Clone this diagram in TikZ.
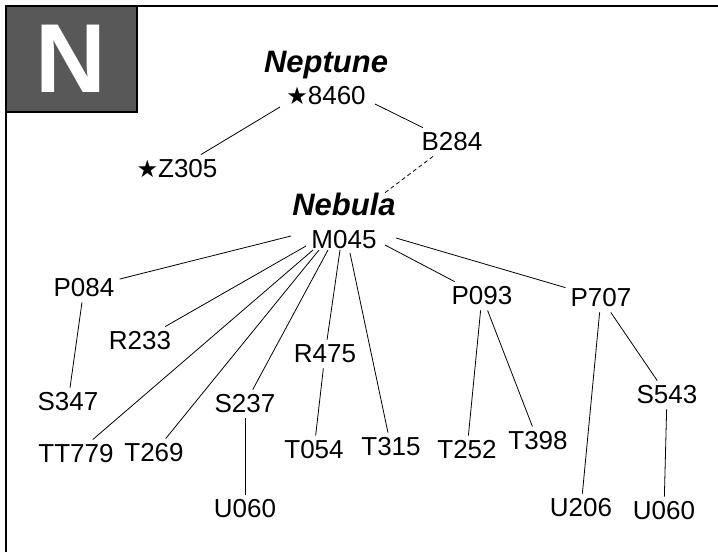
\documentclass[tikz,border=0pt]{standalone}
\usepackage{fontspec}
\usetikzlibrary{calc}
\setmainfont{Liberation Sans}
\newfontfamily\djv{DejaVu Sans}
\begin{document}
\begin{tikzpicture}[x=1pt,y=-1pt,
  lbl/.style={font=\fontsize{26}{26}\selectfont, inner sep=5pt},
  ttl/.style={font=\fontsize{31}{31}\selectfont\bfseries\itshape, inner sep=2pt, anchor=base},
  edge/.style={line width=0.8pt},
  dedge/.style={line width=0.8pt, dash pattern=on 4pt off 3pt}]
\useasboundingbox (0,0) rectangle (718,552);
% frame
\draw[line width=2.5pt] (6,552) -- (6,6) -- (718,6);
\draw[line width=2.5pt, fill={rgb,255:red,88;green,88;blue,88}] (6,6) rectangle (137,112);
\node[font=\fontsize{98}{98}\selectfont\bfseries, text=white, inner sep=0pt] (nlet) at (71,59) {N};
% titles
\node[ttl] (neptune) at (326,72) {Neptune};
\node[ttl] (nebula) at (344,215) {Nebula};
% nodes
\newcommand{\str}{{\djv\fontsize{24}{24}\selectfont\raisebox{0.5pt}{★}}}
\node[lbl] (n8460) at (326,96) {\str8460};
\node[lbl] (z305) at (177,169) {\str Z305};
\node[lbl] (b284) at (452,142) {B284};
\node[lbl] (m045) at (344,240) {M045};
\node[lbl] (p084) at (84,288) {P084};
\node[lbl] (r233) at (140,341) {R233};
\node[lbl] (s347) at (68,402) {S347};
\node[lbl] (tt779) at (76,454) {TT779};
\node[lbl] (t269) at (154,453) {T269};
\node[lbl] (s237) at (245,404) {S237};
\node[lbl] (u060a) at (245,509) {U060};
\node[lbl] (r475) at (325,354) {R475};
\node[lbl] (t054) at (314,450) {T054};
\node[lbl] (t315) at (391,447) {T315};
\node[lbl] (p093) at (482,296) {P093};
\node[lbl] (p707) at (601,298) {P707};
\node[lbl] (t252) at (467,450) {T252};
\node[lbl] (t398) at (538,441) {T398};
\node[lbl] (s543) at (667,395) {S543};
\node[lbl] (u206) at (581,508) {U206};
\node[lbl] (u060b) at (664,511) {U060};
% edges
\draw[edge] ($(n8460)+(-46,11)$) -- (z305);
\draw[edge] ($(n8460)+(49,8)$) -- (b284);
\draw[dedge] (b284) -- ($(nebula.north east)+(-15,4)$);
\foreach \t/\dx/\dy in {p084/-53/-4, r233/-38/6, tt779/-31/10, t269/-25/10, s237/-16/10, r475/-4/10, t315/6/13, p093/41/5, p707/52/-2}
  \draw[edge] ($(m045)+(\dx,\dy)$) -- (\t);
\draw[edge] (p084) -- (s347);
\draw[edge] (s237) -- (u060a);
\draw[edge] (r475) -- (t054);
\draw[edge] (p093) -- (t252);
\draw[edge] (p093) -- (t398);
\draw[edge] (p707) -- (u206);
\draw[edge] (p707) -- (s543);
\draw[edge] (s543) -- (u060b);
\end{tikzpicture}
\end{document}
